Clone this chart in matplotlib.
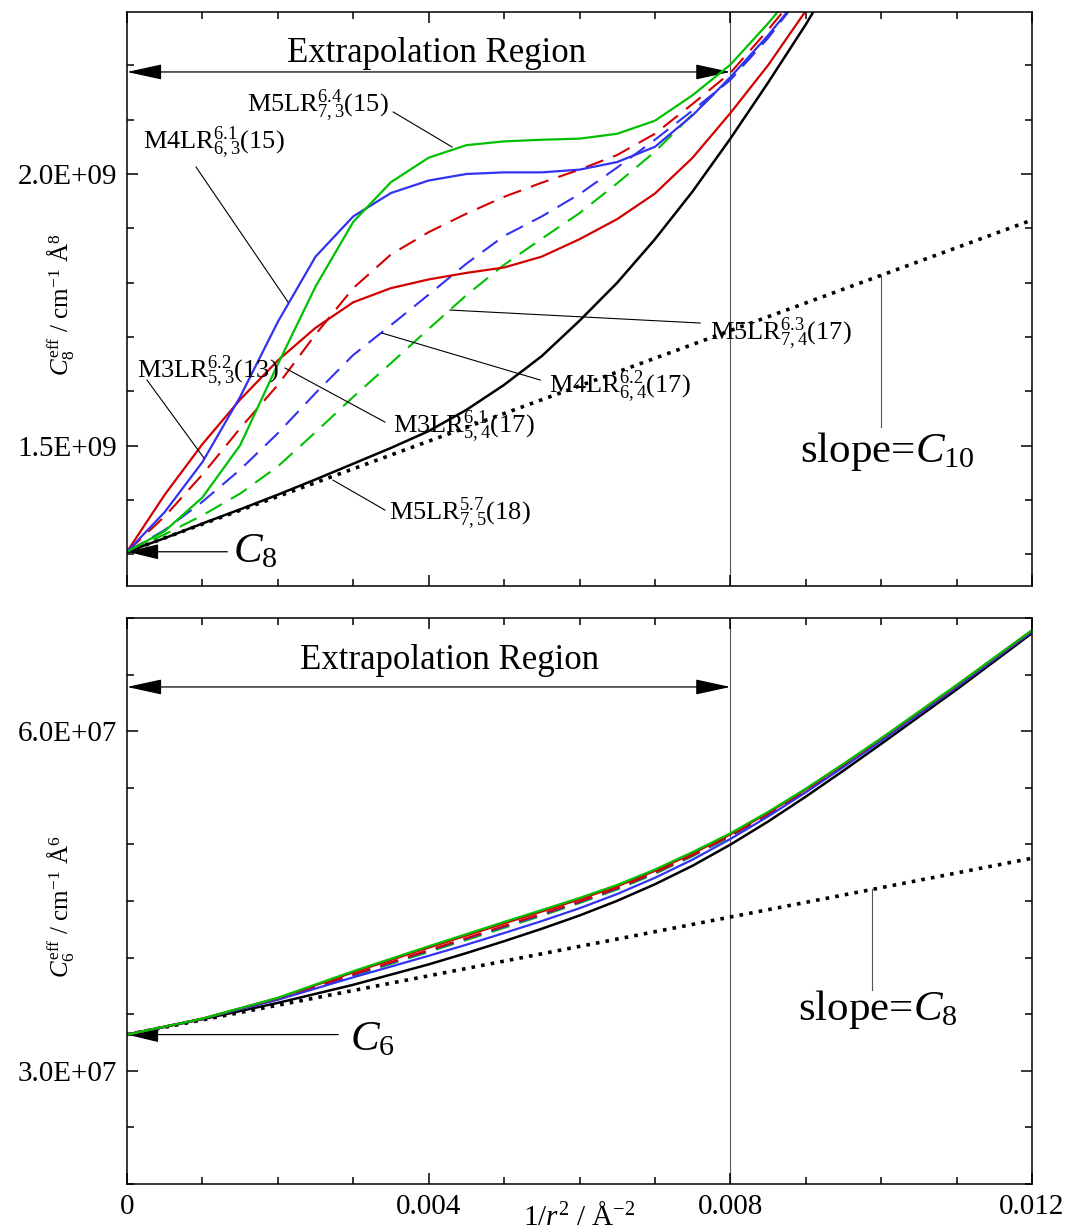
import matplotlib
matplotlib.use("Agg")
import matplotlib.pyplot as plt
from matplotlib.patches import FancyArrowPatch
from matplotlib.ticker import MultipleLocator, FixedLocator
import numpy as np

plt.rcParams['font.family'] = ['Liberation Serif', 'DejaVu Serif']
plt.rcParams['mathtext.fontset'] = 'custom'
plt.rcParams['mathtext.rm'] = 'Liberation Serif'
plt.rcParams['mathtext.it'] = 'Liberation Serif:italic'
plt.rcParams['mathtext.bf'] = 'Liberation Serif:bold'

# ---- upper panel: C8eff vs 1/r^2 (1e9 cm-1 A^8) ----
c8 = 1.305e9
c10 = 50.86e9            # slope of the tangent line

x8 = [0, 0.0005, 0.001, 0.0015, 0.002, 0.0025, 0.003, 0.0035, 0.004, 0.0045, 0.005,
      0.0055, 0.006, 0.0065, 0.007, 0.0075, 0.008, 0.0085, 0.009, 0.0093]
c8_m5lr75 = [1.305, 1.330, 1.357, 1.383, 1.410, 1.438, 1.467, 1.496, 1.527, 1.566, 1.612,
             1.665, 1.730, 1.800, 1.880, 1.968, 2.065, 2.168, 2.275, 2.345]
c8_m5lr73 = [1.305, 1.343, 1.405, 1.501, 1.650, 1.793, 1.912, 1.985, 2.030, 2.053, 2.060,
             2.063, 2.065, 2.074, 2.098, 2.145, 2.201, 2.277, 2.360, 2.410]
c8_m4lr63 = [1.305, 1.378, 1.470, 1.590, 1.728, 1.848, 1.922, 1.965, 1.988, 2.000, 2.003,
             2.003, 2.008, 2.022, 2.050, 2.108, 2.178, 2.255, 2.340, 2.390]
c8_m3lr53 = [1.305, 1.410, 1.503, 1.585, 1.657, 1.717, 1.764, 1.790, 1.806, 1.818, 1.828,
             1.848, 1.880, 1.917, 1.964, 2.030, 2.112, 2.200, 2.300, 2.360]
c8_m3lr54 = [1.305, 1.370, 1.447, 1.532, 1.612, 1.705, 1.790, 1.852, 1.893, 1.927, 1.958,
             1.984, 2.008, 2.035, 2.074, 2.129, 2.186, 2.265, 2.350, 2.400]
c8_m4lr64 = [1.305, 1.345, 1.397, 1.456, 1.523, 1.597, 1.667, 1.722, 1.778, 1.835, 1.886,
             1.922, 1.963, 2.012, 2.063, 2.117, 2.173, 2.250, 2.340, 2.390]
c8_m5lr74 = [1.305, 1.337, 1.372, 1.412, 1.462, 1.525, 1.590, 1.652, 1.715, 1.777, 1.833,
             1.881, 1.928, 1.983, 2.041, 2.110, 2.175, 2.252, 2.340, 2.390]

# ---- lower panel: C6eff vs 1/r^2 (1e7 cm-1 A^6) ----
c6 = 3.32e7
c8_slope = 1.298e9

x6 = [0, 0.001, 0.002, 0.003, 0.004, 0.0045, 0.005, 0.0055, 0.006, 0.0065, 0.007, 0.0075,
      0.008, 0.0085, 0.009, 0.0095, 0.010, 0.011, 0.012]
c6_m5lr75 = [3.32, 3.456, 3.600, 3.760, 3.940, 4.040, 4.145, 4.255, 4.372, 4.502, 4.648, 4.812,
             4.998, 5.202, 5.422, 5.652, 5.888, 6.368, 6.866]
c6_m5lr73 = [3.32, 3.461, 3.645, 3.880, 4.100, 4.207, 4.315, 4.420, 4.527, 4.642, 4.778, 4.932,
             5.098, 5.287, 5.492, 5.712, 5.938, 6.408, 6.893]
c6_m3lr53 = [3.32, 3.461, 3.642, 3.870, 4.088, 4.195, 4.302, 4.407, 4.515, 4.630, 4.766, 4.920,
             5.088, 5.278, 5.485, 5.706, 5.933, 6.404, 6.890]
c6_m3lr54 = [3.32, 3.460, 3.635, 3.852, 4.066, 4.172, 4.280, 4.386, 4.496, 4.615, 4.752, 4.907,
             5.078, 5.270, 5.478, 5.700, 5.928, 6.400, 6.886]
c6_m4lr64 = [3.32, 3.460, 3.632, 3.846, 4.060, 4.166, 4.273, 4.379, 4.490, 4.610, 4.748, 4.902,
             5.074, 5.266, 5.475, 5.697, 5.926, 6.398, 6.886]
c6_m5lr74 = [3.32, 3.460, 3.630, 3.839, 4.050, 4.156, 4.263, 4.370, 4.482, 4.602, 4.740, 4.896,
             5.068, 5.262, 5.472, 5.694, 5.923, 6.396, 6.884]
c6_m4lr63 = [3.32, 3.460, 3.628, 3.826, 4.016, 4.114, 4.217, 4.323, 4.436, 4.562, 4.705, 4.866,
             5.048, 5.247, 5.460, 5.684, 5.914, 6.388, 6.878]

x_fit = [0.0, 0.012]
x_ticks = [0, 0.004, 0.008, 0.012]
x_ticklabels = ['0', '0.004', '0.008', '0.012']

labels_top = [r'M5LR$_{7,3}^{6.4}$(15)', r'M4LR$_{6,3}^{6.1}$(15)', r'M3LR$_{5,3}^{6.2}$(13)',
              r'M3LR$_{5,4}^{6.1}$(17)', r'M4LR$_{6,4}^{6.2}$(17)', r'M5LR$_{7,4}^{6.3}$(17)',
              r'M5LR$_{7,5}^{5.7}$(18)']
label_pos = [(0.00159, 2.1146e9), (0.000212, 2.0455e9), (0.000133, 1.6246e9),
             (0.00353, 1.5228e9), (0.00559, 1.5964e9), (0.00773, 1.6945e9),
             (0.00347, 1.3633e9)]
leaders = [((0.00353, 2.1141e9), (0.00431, 2.0497e9)),
           ((0.000915, 2.0129e9), (0.002135, 1.7644e9)),
           ((0.000265, 1.6209e9), (0.00102, 1.4774e9)),
           ((0.002095, 1.643e9), (0.00342, 1.5436e9)),
           ((0.00338, 1.7074e9), (0.00548, 1.6209e9)),
           ((0.00428, 1.7497e9), (0.0076, 1.7258e9)),
           ((0.00273, 1.4369e9), (0.00342, 1.3817e9))]

red = '#d20000'
green = '#00c000'
blue = '#3232f0'
dash = (0, (9, 5))
dot = (0, (1, 1.7))


def style_axes(ax):
    ax.set_xlim(0, 0.012)
    ax.xaxis.set_major_locator(FixedLocator(x_ticks))
    ax.xaxis.set_minor_locator(MultipleLocator(0.001))
    ax.tick_params(which='both', direction='in', top=True, right=True, width=1.1, labelsize=21)
    ax.tick_params(which='major', length=8)
    ax.tick_params(which='minor', length=5)
    for s in ax.spines.values():
        s.set_linewidth(1.1)
    ax.axvline(0.008, color='#555555', lw=0.8, zorder=1)


def region_arrow(ax, y):
    arr = FancyArrowPatch((0, y), (0.008, y), arrowstyle='<|-|>,head_length=22,head_width=4.8',
                          mutation_scale=1, lw=0.9, color='k', shrinkA=0, shrinkB=0)
    ax.add_patch(arr)


fig = plt.figure(figsize=(10.7, 12.32), dpi=100)
ax1 = fig.add_axes([0.1187, 0.52435, 0.8458, 0.4659])
ax2 = fig.add_axes([0.1187, 0.03896, 0.8458, 0.4594])

# upper panel
style_axes(ax1)
ax1.set_ylim(1.242e9, 2.298e9)
ax1.yaxis.set_major_locator(FixedLocator([1.5e9, 2.0e9]))
ax1.yaxis.set_minor_locator(MultipleLocator(1e8))
ax1.set_yticklabels(['1.5E+09', '2.0E+09'])
ax1.tick_params(labelbottom=False, pad=7)

ax1.plot(x_fit, [c8 + c10 * v for v in x_fit], color='k', lw=2.6, linestyle=dot, dash_capstyle='butt')
ax1.plot(x8, np.array(c8_m5lr74) * 1e9, color=green, lw=1.5, linestyle=dash)
ax1.plot(x8, np.array(c8_m4lr64) * 1e9, color=blue, lw=1.5, linestyle=dash)
ax1.plot(x8, np.array(c8_m3lr54) * 1e9, color=red, lw=1.5, linestyle=dash)
ax1.plot(x8, np.array(c8_m5lr75) * 1e9, color='k', lw=1.8)
ax1.plot(x8, np.array(c8_m3lr53) * 1e9, color=red, lw=1.6)
ax1.plot(x8, np.array(c8_m4lr63) * 1e9, color=blue, lw=1.6)
ax1.plot(x8, np.array(c8_m5lr73) * 1e9, color=green, lw=1.6)

for txt, (tx, ty), (p0, p1) in zip(labels_top, label_pos, leaders):
    ax1.text(tx, ty, txt, fontsize=19, va='baseline', ha='left')
    ax1.plot([p0[0], p1[0]], [p0[1], p1[1]], color='k', lw=0.8)

region_arrow(ax1, 2.1877e9)
ax1.text(0.00411, 2.2067e9, 'Extrapolation Region', fontsize=25, ha='center', va='baseline')
ax1.add_patch(FancyArrowPatch((0.00133, c8), (0, c8), arrowstyle='-|>,head_length=20,head_width=4.8',
                              mutation_scale=1, lw=0.9, color='k', shrinkA=0, shrinkB=0))
ax1.text(0.00141, 1.286e9, r'$C_8$', fontsize=31, ha='left', va='baseline')
ax1.plot([0.0100, 0.0100], [c8 + c10 * 0.0100, 1.5344e9], color='#555555', lw=0.8)
ax1.text(0.00892, 1.47e9, r'slope=$C_{10}$', fontsize=31, ha='left', va='baseline')

ax1.set_ylabel(r'$C_8^{\mathrm{eff}}$ / cm$^{-1}$ Å$^8$', fontsize=18)
ax1.yaxis.set_label_coords(-0.055, 0.49)

# lower panel
style_axes(ax2)
ax2.set_ylim(2.0e7, 7.0e7)
ax2.yaxis.set_major_locator(FixedLocator([3e7, 6e7]))
ax2.yaxis.set_minor_locator(MultipleLocator(5e6))
ax2.set_yticklabels(['3.0E+07', '6.0E+07'])
ax2.set_xticklabels(x_ticklabels)
ax2.tick_params(pad=7)

ax2.plot(x_fit, [c6 + c8_slope * v for v in x_fit], color='k', lw=2.6, linestyle=dot, dash_capstyle='butt')
ax2.plot(x6, np.array(c6_m5lr75) * 1e7, color='k', lw=1.8)
ax2.plot(x6, np.array(c6_m5lr74) * 1e7, color=green, lw=1.5, linestyle=dash)
ax2.plot(x6, np.array(c6_m4lr64) * 1e7, color=blue, lw=1.5, linestyle=dash)
ax2.plot(x6, np.array(c6_m3lr54) * 1e7, color=red, lw=1.5, linestyle=dash)
ax2.plot(x6, np.array(c6_m4lr63) * 1e7, color=blue, lw=1.6)
ax2.plot(x6, np.array(c6_m3lr53) * 1e7, color=red, lw=1.6)
ax2.plot(x6, np.array(c6_m5lr73) * 1e7, color=green, lw=1.6)

region_arrow(ax2, 6.391e7)
ax2.text(0.00428, 6.554e7, 'Extrapolation Region', fontsize=25, ha='center', va='baseline')
ax2.add_patch(FancyArrowPatch((0.0028, c6), (0, c6), arrowstyle='-|>,head_length=20,head_width=4.8',
                              mutation_scale=1, lw=0.9, color='k', shrinkA=0, shrinkB=0))
ax2.text(0.00296, 3.182e7, r'$C_6$', fontsize=31, ha='left', va='baseline')
ax2.plot([0.00988, 0.00988], [c6 + c8_slope * 0.00988, 3.712e7], color='#555555', lw=0.8)
ax2.text(0.0089, 3.447e7, r'slope=$C_8$', fontsize=31, ha='left', va='baseline')

ax2.set_ylabel(r'$C_6^{\mathrm{eff}}$ / cm$^{-1}$ Å$^6$', fontsize=18)
ax2.yaxis.set_label_coords(-0.055, 0.49)
ax2.set_xlabel(r'1/$r^2$ / Å$^{-2}$', fontsize=21)
ax2.xaxis.set_label_coords(0.5, -0.034)

fig.savefig('out.png', dpi=100)
